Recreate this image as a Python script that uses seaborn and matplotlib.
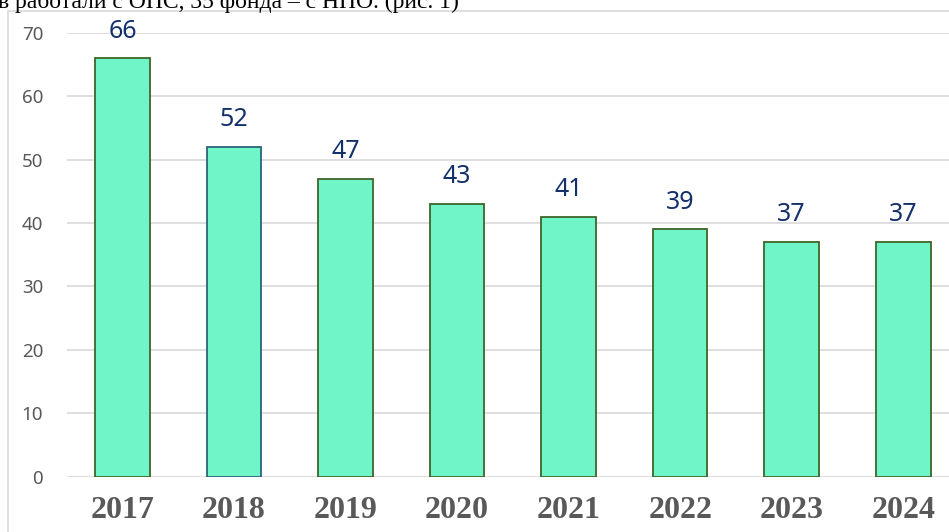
import pandas as pd
import matplotlib.pyplot as plt
import seaborn as sns
from matplotlib.patches import Rectangle

# values
years = ['2017', '2018', '2019', '2020', '2021', '2022', '2023', '2024']
counts = [66, 52, 47, 43, 41, 39, 37, 37]
edge_colors = ['#3E6529', '#2C6479', '#3E6529', '#3E6529',
               '#3E6529', '#3E6529', '#3E6529', '#3E6529']

df = pd.DataFrame({'year': years, 'count': counts})

sns.set_style('white')
plt.rcParams['font.family'] = ['Noto Sans', 'DejaVu Sans']

fig = plt.figure(figsize=(9.49, 5.32), dpi=100)
ax = fig.add_axes([0.0703, 0.104, 1.0105 - 0.0703, 0.9385 - 0.104])

sns.barplot(data=df, x='year', y='count', order=years, color='#6FF5C8',
            saturation=1, width=0.49, ax=ax, zorder=3)

for bar, ec, val in zip(ax.patches, edge_colors, counts):
    bar.set_edgecolor(ec)
    bar.set_linewidth(1.3)
    ax.annotate(str(val), (bar.get_x() + bar.get_width() / 2, bar.get_height()),
                xytext=(0, 19.5), textcoords='offset points',
                ha='center', va='center', fontsize=18, color='#13306B')

ax.set_ylim(0, 70)
ax.set_yticks(range(0, 71, 10))
ax.set_xlim(-0.5, len(years) - 0.5)
ax.yaxis.grid(True, color='#D9D9D9', linewidth=1.2, zorder=0)
ax.set_axisbelow(True)
for s in ax.spines.values():
    s.set_visible(False)
ax.set_xlabel('')
ax.set_ylabel('')
ax.tick_params(axis='y', length=0, pad=17, labelsize=13.5, labelcolor='#595959')
ax.tick_params(axis='x', length=0, pad=14, labelcolor='#595959')
for lbl in ax.get_xticklabels():
    lbl.set_fontfamily('Liberation Serif')
    lbl.set_fontweight('bold')
    lbl.set_fontsize(23)

# chart frame
fig.patches.append(Rectangle((8.3 / 949, -0.1), 1.2, 1 - 10.7 / 532 + 0.1,
                             transform=fig.transFigure, fill=False,
                             edgecolor='#D9D9D9', linewidth=1.2, zorder=0))

# cropped document line above the chart
fig.text(-0.002, 1 - 8 / 532, 'в работали с ОПС, 35 фонда – с НПО. (рис. 1)',
         family='Liberation Serif', fontsize=17, color='black',
         ha='left', va='baseline')

fig.savefig('out.png', dpi=100)
